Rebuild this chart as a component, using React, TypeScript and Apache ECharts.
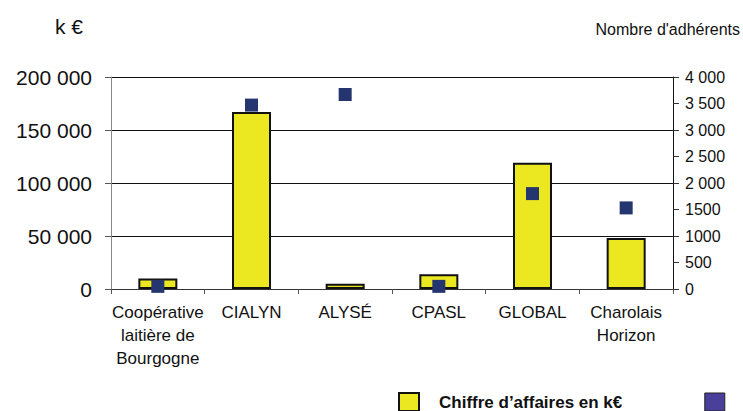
import React, { useEffect, useRef } from "react";
import * as echarts from "echarts";

const categories = [
  "Coopérative\nlaitière de\nBourgogne",
  "CIALYN",
  "ALYSÉ",
  "CPASL",
  "GLOBAL",
  "Charolais\nHorizon",
];
const revenueKEur = [10000, 167000, 5000, 14000, 119000, 48000];
const members = [50, 3470, 3670, 50, 1800, 1530];
const leftTickLabels = ["0", "50 000", "100 000", "150 000", "200 000"];
const rightTickLabels = ["0", "500", "1000", "1500", "2 000", "2 500", "3 000", "3 500", "4 000"];
const seriesNames = ["Chiffre d\u2019affaires en k\u20ac", "Nombre d'adhérents"];

const FONT = "'Liberation Sans', Arial, sans-serif";

export default function App() {
  const ref = useRef<HTMLDivElement>(null);
  useEffect(() => {
    if (!ref.current) return;
    const chart = echarts.init(ref.current, null, { renderer: "svg" });
    chart.setOption({
      animation: false,
      backgroundColor: "#ffffff",
      textStyle: { fontFamily: FONT },
      graphic: [
        {
          type: "text",
          left: 55,
          top: 16,
          style: { text: "k \u20ac", fontSize: 21, fontFamily: FONT, fill: "#111" },
        },
        {
          type: "text",
          right: 3,
          top: 21,
          style: { text: "Nombre d'adhérents", fontSize: 16, fontFamily: FONT, fill: "#111" },
        },
      ],
      legend: {
        left: 398,
        top: 392,
        padding: 0,
        width: 2000,
        itemWidth: 20,
        itemHeight: 18,
        itemGap: 82,
        formatter: (name: string) => (name === seriesNames[0] ? name : ""),
        textStyle: {
          fontSize: 17,
          fontWeight: "bold",
          fontFamily: FONT,
          color: "#111",
          padding: [0, 0, 0, 15],
        },
        data: [
          { name: seriesNames[0], icon: "rect" },
          {
            name: seriesNames[1],
            icon: "rect",
            itemStyle: { color: "#4a3f9a", borderColor: "#222", borderWidth: 1, opacity: 1 },
          },
        ],
      },
      grid: { left: 111, right: 70, top: 77, bottom: 122 },
      xAxis: {
        type: "category",
        data: categories,
        axisLine: { lineStyle: { color: "#333", width: 1 } },
        axisTick: { show: true, inside: false, length: 5, lineStyle: { color: "#555" } },
        axisLabel: {
          fontSize: 17,
          lineHeight: 23,
          margin: 12,
          color: "#111",
          fontFamily: FONT,
          interval: 0,
        },
      },
      yAxis: [
        {
          type: "value",
          min: 0,
          max: 200000,
          interval: 50000,
          position: "left",
          axisLine: { show: true, lineStyle: { color: "#888", width: 1 } },
          axisTick: { show: true, length: 6, lineStyle: { color: "#555" } },
          splitLine: { show: true, lineStyle: { color: "#111", width: 1 } },
          axisLabel: {
            fontSize: 21,
            margin: 19,
            color: "#111",
            fontFamily: FONT,
            formatter: (v: number) => leftTickLabels[Math.round(v / 50000)] ?? "",
          },
        },
        {
          type: "value",
          min: 0,
          max: 4000,
          interval: 500,
          position: "right",
          axisLine: { show: true, lineStyle: { color: "#111", width: 1 } },
          axisTick: { show: true, length: 6, lineStyle: { color: "#333" } },
          splitLine: { show: false },
          axisLabel: {
            fontSize: 16,
            margin: 12,
            color: "#111",
            fontFamily: FONT,
            formatter: (v: number) => rightTickLabels[Math.round(v / 500)] ?? "",
          },
        },
      ],
      series: [
        {
          name: seriesNames[0],
          type: "bar",
          data: revenueKEur,
          barWidth: 39,
          yAxisIndex: 0,
          itemStyle: { color: "#ebe822", borderColor: "#111", borderWidth: 2 },
          z: 2,
        },
        {
          name: seriesNames[1],
          type: "scatter",
          data: members,
          yAxisIndex: 1,
          symbol: "rect",
          symbolSize: 13,
          itemStyle: { color: "#253570", opacity: 1 },
          z: 3,
        },
      ],
    });
    return () => chart.dispose();
  }, []);
  return (
    <div
      ref={ref}
      style={{ position: "fixed", left: 0, top: 0, width: 743, height: 411 }}
    />
  );
}
